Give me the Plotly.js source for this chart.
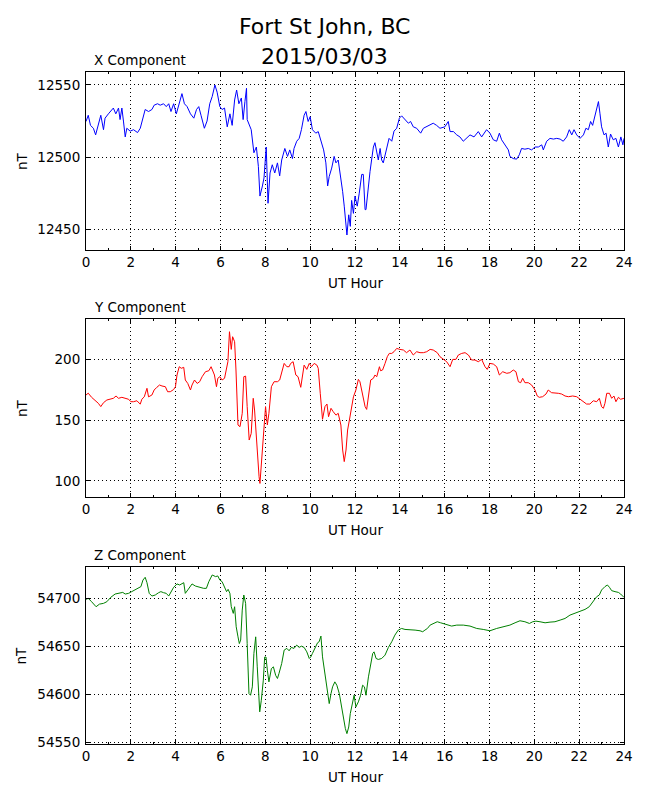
<!DOCTYPE html>
<html>
<head>
<meta charset="utf-8">
<script src="https://cdn.plot.ly/plotly-3.0.1.min.js"></script>
<style>html,body{margin:0;padding:0;background:#fff;}#chart{width:650px;height:800px;}</style>
</head>
<body>
<div id="chart"></div>
<script>
// ---- Data ----
var chartTitleLine1 = "Fort St John, BC";
var chartTitleLine2 = "2015/03/03";
var panelTitles = ["X Component", "Y Component", "Z Component"];
var xAxisLabel = "UT Hour";
var yAxisLabel = "nT";
var hourTicks = [0, 2, 4, 6, 8, 10, 12, 14, 16, 18, 20, 22, 24];

var xcompHours = [0,0.1,0.2,0.33,0.43,0.55,0.66,0.78,0.85,1.0,1.15,1.22,1.33,1.45,1.52,1.6,1.67,1.75,1.82,1.97,2.12,2.3,2.42,2.54,2.64,2.79,2.94,3.04,3.19,3.31,3.46,3.58,3.69,3.79,3.91,4.03,4.13,4.28,4.39,4.51,4.66,4.81,4.93,5.03,5.13,5.28,5.4,5.52,5.63,5.75,5.85,5.97,6.07,6.18,6.3,6.42,6.52,6.63,6.72,6.82,6.93,7.01,7.09,7.16,7.19,7.31,7.37,7.49,7.6,7.69,7.76,7.87,7.94,8.04,8.12,8.21,8.31,8.42,8.54,8.64,8.73,8.87,8.99,9.09,9.21,9.28,9.4,9.51,9.61,9.73,9.81,9.91,10.0,10.1,10.25,10.36,10.48,10.6,10.7,10.78,10.85,10.96,11.07,11.15,11.25,11.34,11.45,11.52,11.6,11.64,11.72,11.79,11.85,11.93,12.0,12.1,12.19,12.3,12.37,12.45,12.49,12.6,12.67,12.74,12.82,12.89,12.97,13.04,13.12,13.19,13.26,13.34,13.41,13.52,13.64,13.74,13.86,13.98,14.08,14.23,14.38,14.48,14.6,14.75,14.93,15.05,15.27,15.49,15.64,15.79,16.01,16.16,16.24,16.39,16.54,16.68,16.83,16.98,17.13,17.31,17.5,17.65,17.87,18.02,18.17,18.32,18.44,18.54,18.69,18.84,18.91,19.06,19.21,19.33,19.43,19.58,19.73,19.88,20.03,20.18,20.33,20.4,20.55,20.7,20.85,21.0,21.15,21.29,21.44,21.56,21.67,21.77,21.89,22.04,22.19,22.3,22.41,22.51,22.6,22.71,22.78,22.86,22.93,23.0,23.11,23.2,23.3,23.4,23.52,23.64,23.75,23.86,23.95,24.0];
var xcompValues = [12524.7,12529,12522,12520,12515.4,12522,12529,12519,12527,12530,12533,12534,12530,12534,12526,12534,12525,12514,12520,12518,12519,12517,12520,12528,12533,12531.6,12533,12536,12537,12536,12537,12535,12537,12531.6,12537,12530,12536,12544,12537,12535,12530,12527,12533,12535,12529,12520,12525,12537,12542,12550,12545,12535,12533,12534,12521,12530,12522,12539.6,12546.5,12537,12541,12526,12538.5,12547.7,12526,12522,12519,12503,12507,12493.5,12473,12480,12485.5,12507,12468,12489,12494.7,12489,12496,12487,12498,12506,12500.5,12505,12499,12506,12511,12513,12519,12529,12531.6,12524.7,12528,12519,12516.6,12517.7,12511,12505,12496,12480,12486.6,12492.4,12500.5,12496,12498,12489,12476,12466,12454,12446,12460,12452,12470,12461,12473,12466,12475,12488,12488,12463.6,12463.6,12482,12490,12498,12507,12510,12503,12498,12506,12498,12496,12501.6,12505,12513,12511,12518,12520,12527,12528.6,12526,12523.5,12524.7,12521,12520,12516.6,12520,12522,12523.5,12522,12520,12521,12524.7,12517.7,12517.7,12515.4,12514,12511,12513,12515.4,12514,12517.7,12514,12519,12516.6,12512,12511,12516.6,12512,12508.5,12505,12500.5,12499,12498.6,12501.6,12506,12505.5,12506,12505,12507,12507,12508.5,12505,12511,12513,12512.5,12513,12512.5,12511,12514,12519,12515.4,12519,12515.4,12513,12515.4,12520,12519,12524.7,12522,12529,12531.6,12538.5,12530,12521,12515.4,12516.6,12507,12516,12512,12513,12507,12514,12508.5,12513];

var ycompHours = [0,0.1,0.25,0.4,0.55,0.66,0.78,0.93,1.07,1.22,1.34,1.45,1.6,1.75,1.9,2.0,2.12,2.27,2.42,2.49,2.6,2.72,2.79,2.94,3.04,3.16,3.28,3.39,3.54,3.64,3.76,3.91,3.99,4.06,4.16,4.25,4.36,4.43,4.54,4.66,4.73,4.84,4.96,5.07,5.18,5.33,5.48,5.58,5.67,5.73,5.82,5.88,5.97,6.07,6.18,6.25,6.33,6.4,6.48,6.54,6.63,6.69,6.78,6.87,6.97,7.04,7.12,7.19,7.28,7.37,7.46,7.52,7.61,7.72,7.76,7.87,7.94,8.01,8.09,8.16,8.27,8.39,8.54,8.64,8.76,8.84,8.96,9.06,9.13,9.24,9.36,9.46,9.58,9.66,9.73,9.85,9.96,10.06,10.18,10.3,10.36,10.45,10.55,10.66,10.75,10.82,10.93,11.03,11.15,11.25,11.37,11.45,11.52,11.6,11.67,11.75,11.82,11.93,12.04,12.15,12.22,12.34,12.45,12.52,12.6,12.7,12.82,12.89,12.97,13.09,13.14,13.23,13.34,13.44,13.53,13.64,13.74,13.86,14.0,14.16,14.3,14.45,14.6,14.75,14.9,15.05,15.2,15.35,15.49,15.67,15.79,15.94,16.09,16.24,16.36,16.5,16.61,16.76,16.91,17.06,17.2,17.35,17.5,17.65,17.8,17.9,18.02,18.17,18.32,18.44,18.59,18.77,18.91,19.06,19.18,19.29,19.39,19.48,19.58,19.73,19.88,20.03,20.13,20.22,20.37,20.52,20.62,20.77,20.92,21.07,21.22,21.37,21.52,21.71,21.89,22.04,22.19,22.33,22.48,22.63,22.78,22.9,23.0,23.08,23.15,23.23,23.35,23.45,23.55,23.64,23.75,23.85,24.0];
var ycompValues = [170.5,172,168.6,166.4,163.7,161,164.2,166.4,167,167.8,169.7,167.8,168.6,167.8,167,165,165,165.8,163,167,169,176,169,170.5,174.6,176.8,178.7,177.9,177.3,173.2,173.2,175,177.3,186.9,193.7,192.4,193.2,182.8,180,174.6,178.7,182.8,180,181.4,185.5,189.6,190.4,193.7,189.6,186.9,177.3,184.2,185.5,182.8,184.2,189.6,197.8,222.4,207.9,218.3,214.2,191,145.9,144.5,155.5,185.5,186,161,133.6,139,167.8,158.2,130.9,103.6,98,125.4,139,161,146,155.5,177.3,181.4,181.4,182.8,191,196.4,193.7,193.7,196.4,197.8,186.9,185.5,176.8,185.5,195,191.5,196.4,193.7,196.4,195,192.4,171.9,150.6,161,163.1,152.7,159.6,156.8,154,155.5,145.9,125.4,115.9,125.4,141.8,150,158.2,169,174.6,183.3,181.4,171.9,161,158.7,169,182.8,184.2,186.9,185.5,193.7,190.4,191,196.4,201.9,204.6,204.6,206,208.7,207.9,207.4,205.2,207.4,203.3,206,205.2,205.2,206,207.9,207.4,205.2,201.9,199.7,197.8,193.7,199.7,199.7,203.3,204.6,205.2,203.3,199.2,199.2,197.8,199.7,193.7,191.5,196.4,195.9,193.7,186.9,189.6,188.3,188.8,191,189.6,181.4,180.6,184.2,180.6,180.6,178.7,174.6,169.7,168.6,169.1,171.3,174.6,172.4,172.4,171.9,171.3,169.7,169.1,169.7,169.1,167,165,163.1,163.1,165.8,165,167.8,160.9,159.6,163.7,171.9,171.9,167.8,169.7,165,168.6,167,167.8];

var zcompHours = [0,0.1,0.25,0.45,0.6,0.78,0.93,1.1,1.3,1.49,1.64,1.75,1.9,2.04,2.19,2.34,2.45,2.54,2.64,2.72,2.82,2.94,3.09,3.24,3.34,3.46,3.58,3.69,3.79,3.91,4.06,4.18,4.36,4.43,4.54,4.73,4.88,5.07,5.25,5.37,5.48,5.63,5.78,5.88,5.97,6.07,6.18,6.27,6.34,6.42,6.48,6.57,6.63,6.7,6.78,6.84,6.9,6.97,7.04,7.12,7.19,7.27,7.34,7.42,7.49,7.57,7.64,7.75,7.82,7.91,7.97,8.03,8.09,8.16,8.27,8.36,8.46,8.54,8.61,8.73,8.84,8.96,9.06,9.16,9.28,9.4,9.51,9.61,9.73,9.85,9.96,10.03,10.1,10.21,10.33,10.4,10.48,10.55,10.66,10.75,10.85,10.93,11.0,11.1,11.19,11.3,11.4,11.49,11.57,11.64,11.72,11.79,11.87,11.96,12.04,12.15,12.25,12.34,12.42,12.49,12.6,12.7,12.79,12.85,12.94,13.04,13.19,13.34,13.49,13.64,13.78,13.93,14.08,14.23,14.45,14.68,14.9,15.02,15.12,15.23,15.35,15.49,15.67,15.82,16.01,16.16,16.31,16.54,16.83,17.13,17.43,17.72,18.02,18.32,18.62,18.91,19.14,19.36,19.58,19.78,19.93,20.07,20.25,20.48,20.7,20.92,21.15,21.37,21.59,21.81,22.04,22.26,22.45,22.63,22.78,22.9,23.0,23.15,23.26,23.35,23.45,23.6,23.75,23.85,24.0];
var zcompValues = [54699,54700,54696.5,54691.3,54694,54694.8,54696.5,54701,54704.5,54705.2,54706.2,54704.5,54705.2,54707,54708.7,54710.4,54712.2,54719,54721.9,54716.3,54705.2,54702.4,54703.5,54705.9,54707,54705.9,54705.2,54702.4,54707,54711.5,54715,54713.9,54716.3,54705.2,54708.7,54715,54712.8,54711.5,54710.4,54710.4,54717.4,54724.3,54722.6,54723.3,54719,54717.4,54712.2,54707,54709.4,54705.2,54691.3,54684.4,54691.3,54670.5,54660,54653,54656.6,54687.8,54703.5,54694.8,54653,54601,54599.3,54608,54642.7,54660,54628.8,54582,54594,54615,54639,54639,54625.4,54613.2,54627,54628.8,54620,54616.7,54622,54632.3,54646.2,54648,54645.5,54649,54648,54651.4,54649,54650.3,54649,54644.4,54637.5,54639.2,54642.7,54648,54653.8,54654.9,54660.8,54639.2,54620.1,54606.3,54590.6,54601,54608,54613.2,54609.7,54601,54587.2,54571.5,54564.6,54559.4,54566.3,54580.2,54588.9,54599.3,54587.2,54592.4,54599.3,54609.7,54608,54599.3,54618.4,54632.3,54642.7,54644.4,54637.5,54636.5,54637.5,54641,54649,54654.9,54661.8,54667,54668.7,54667.7,54667.7,54667,54666.3,54665.3,54667,54668.7,54672.2,54673.9,54675.7,54674.6,54673.3,54672.2,54671.2,54672.2,54672.2,54671.2,54668.7,54667.7,54666.3,54668.7,54670.5,54672.2,54674.6,54676.7,54675.7,54673.9,54675.7,54676.3,54675.7,54674.6,54675.3,54675.7,54677.4,54679.1,54682.6,54684.4,54686.1,54688.5,54691.3,54696.5,54701.7,54703.5,54708.7,54712.2,54713.9,54711.5,54708,54707,54706.2,54704.5,54701];

var xcompTicks = [12450, 12500, 12550];
var ycompTicks = [100, 150, 200];
var zcompTicks = [54550, 54600, 54650, 54700];

// ---- Styling / layout ----
var FONT = "DejaVu Sans, Liberation Sans, sans-serif";
var lineColors = ["#0000ff", "#ff0000", "#008000"];
var domains = [[0.7351, 1.0], [0.3676, 0.6324], [0.0, 0.2634]];
var yRanges = [[12435.6, 12559], [86.9, 232.8], [54548.6, 54732.6]];

function xAxisDef(anchor) {
  return {
    anchor: anchor, range: [0, 24], tickvals: hourTicks, ticktext: hourTicks.map(String),
    ticks: "inside", ticklen: 4, tickwidth: 1, tickcolor: "#000",
    minor: {dtick: 1, tick0: 0, ticks: "inside", ticklen: 2, tickwidth: 1, tickcolor: "#000", showgrid: false},
    showline: true, linecolor: "#000", linewidth: 1, mirror: "allticks",
    showgrid: true, gridcolor: "#000", gridwidth: 1, griddash: "1px,3px",
    zeroline: false, tickfont: {family: FONT, size: 13.5, color: "#000"},
    fixedrange: true, ticklabelstandoff: 0
  };
}
function yAxisDef(anchor, dom, rng, tv) {
  return {
    anchor: anchor, domain: dom, range: rng, tickvals: tv, ticktext: tv.map(String),
    ticks: "inside", ticklen: 4, tickwidth: 1, tickcolor: "#000",
    showline: true, linecolor: "#000", linewidth: 1, mirror: "allticks",
    showgrid: true, gridcolor: "#000", gridwidth: 1, griddash: "1px,3px",
    zeroline: false, tickfont: {family: FONT, size: 13.5, color: "#000"},
    fixedrange: true, ticklabelstandoff: 2
  };
}

var traces = [
  {x: xcompHours, y: xcompValues, xaxis: "x", yaxis: "y", type: "scatter", mode: "lines", line: {color: lineColors[0], width: 1}, hoverinfo: "skip"},
  {x: ycompHours, y: ycompValues, xaxis: "x2", yaxis: "y2", type: "scatter", mode: "lines", line: {color: lineColors[1], width: 1}, hoverinfo: "skip"},
  {x: zcompHours, y: zcompValues, xaxis: "x3", yaxis: "y3", type: "scatter", mode: "lines", line: {color: lineColors[2], width: 1}, hoverinfo: "skip"}
];

var annotations = [
  {text: chartTitleLine1, xref: "paper", yref: "paper", x: 0.4442, y: 1, yshift: 46, xanchor: "center", yanchor: "middle", showarrow: false, font: {family: FONT, size: 22, color: "#000"}},
  {text: chartTitleLine2, xref: "paper", yref: "paper", x: 0.4442, y: 1, yshift: 16, xanchor: "center", yanchor: "middle", showarrow: false, font: {family: FONT, size: 22, color: "#000"}}
];
for (var i = 0; i < 3; i++) {
  var d = domains[i];
  annotations.push({text: panelTitles[i], xref: "paper", yref: "paper", x: 0.0112, y: d[1], yshift: 2, xanchor: "left", yanchor: "bottom", showarrow: false, font: {family: FONT, size: 13.5, color: "#000"}});
  annotations.push({text: xAxisLabel, xref: "paper", yref: "paper", x: 0.5, y: d[0], yshift: -33, xanchor: "center", yanchor: "middle", showarrow: false, font: {family: FONT, size: 13.5, color: "#000"}});
  annotations.push({text: yAxisLabel, xref: "paper", yref: "paper", x: -0.119, y: (d[0] + d[1]) / 2, xanchor: "center", yanchor: "middle", textangle: -90, showarrow: false, font: {family: FONT, size: 13.5, color: "#000"}});
}

var layout = {
  width: 650, height: 800,
  margin: {l: 86, r: 26, t: 72, b: 56},
  paper_bgcolor: "#fff", plot_bgcolor: "#fff",
  showlegend: false,
  font: {family: FONT, size: 13.5, color: "#000"},
  xaxis: xAxisDef("y"),
  xaxis2: xAxisDef("y2"),
  xaxis3: xAxisDef("y3"),
  yaxis: yAxisDef("x", domains[0], yRanges[0], xcompTicks),
  yaxis2: yAxisDef("x2", domains[1], yRanges[1], ycompTicks),
  yaxis3: yAxisDef("x3", domains[2], yRanges[2], zcompTicks),
  annotations: annotations
};

Plotly.newPlot("chart", traces, layout, {displayModeBar: false, staticPlot: true});
</script>
</body>
</html>
